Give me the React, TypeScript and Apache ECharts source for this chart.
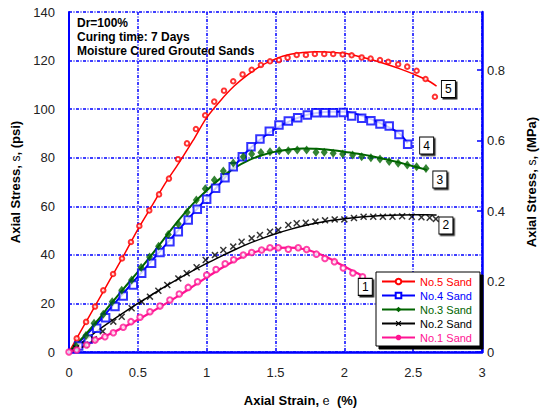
import React, { useEffect, useRef } from 'react';
import * as echarts from 'echarts';

const FONT = '"Liberation Sans", Arial, sans-serif';

// ---- data ----
const sandNames = ['No.5 Sand', 'No.4 Sand', 'No.3 Sand', 'No.2 Sand', 'No.1 Sand'];
const sandColors = ['#ff0000', '#0000ff', '#006400', '#000000', '#ff1493'];
const boxLabels = ['5', '4', '3', '2', '1'];
const boxAnchors = [[2.756, 108.3], [2.598, 85], [2.694, 71], [2.738, 52.1], [2.152, 26.8]];

const xTicks = [0, 0.5, 1, 1.5, 2, 2.5, 3];
const psiTicks = [0, 20, 40, 60, 80, 100, 120, 140];
const mpaTicks = [0, 0.2, 0.4, 0.6, 0.8];
const PSI_PER_MPA = 145.0377;

// measured points (strain %, stress psi)
const sand5Points = [[0.056,5.6],[0.124,12.4],[0.189,18.7],[0.249,25.4],[0.32,32.1],[0.385,38.5],[0.45,45.3],[0.511,51.9],[0.583,58.3],[0.654,64.9],[0.726,71.4],[0.792,79.4],[0.857,85.9],[0.922,91.8],[0.989,97.5],[1.055,103.1],[1.126,107.6],[1.193,111.5],[1.261,114.3],[1.327,116.2],[1.394,118.2],[1.46,119.7],[1.525,120.2],[1.588,121.2],[1.654,122.3],[1.721,122.3],[1.786,122.7],[1.854,122.7],[1.919,122.7],[1.988,122.5],[2.053,122.2],[2.126,121.3],[2.191,120.8],[2.259,120.2],[2.319,119.5],[2.391,118.5],[2.457,117.5],[2.525,115.8],[2.59,112.4],[2.658,105.1]];
const sand4Points = [[0.07,2.5],[0.14,5.4],[0.201,9.8],[0.266,14.1],[0.334,18.7],[0.394,23.1],[0.467,27.6],[0.528,32.4],[0.6,36.5],[0.661,41],[0.733,45.4],[0.794,49.5],[0.866,54.4],[0.932,58.8],[1.0,62.9],[1.065,67.4],[1.133,71.8],[1.193,76.3],[1.259,80.4],[1.322,84.5],[1.387,87.7],[1.455,90.9],[1.525,93.5],[1.593,95.1],[1.661,96.5],[1.731,97.6],[1.794,98.5],[1.859,98.5],[1.919,98.5],[1.992,98.6],[2.053,97.2],[2.126,96.2],[2.193,95.2],[2.259,93.9],[2.326,93.1],[2.397,89.6],[2.46,85.5]];
const sand3Points = [[0.05,2.5],[0.123,6.8],[0.182,11.8],[0.249,15.5],[0.314,20.7],[0.383,25.4],[0.455,29.6],[0.524,34.8],[0.585,39.1],[0.651,43.5],[0.721,48.4],[0.794,52.7],[0.858,57.5],[0.925,62.6],[0.99,67.2],[1.056,70.8],[1.121,74.5],[1.193,77.8],[1.266,80.4],[1.327,81.5],[1.394,82.1],[1.46,82.5],[1.527,82.9],[1.593,82.9],[1.658,83.2],[1.726,83.2],[1.794,82.2],[1.854,82.2],[1.919,81.8],[1.988,81.5],[2.06,81.1],[2.126,80.4],[2.193,80],[2.259,79.5],[2.326,78.4],[2.391,77.7],[2.457,77],[2.525,76.3],[2.593,75.6]];
const sand2Points = [[0.051,1.5],[0.116,3],[0.18,5.3],[0.245,8.5],[0.322,12.5],[0.383,14.5],[0.455,18],[0.528,20.7],[0.588,22.8],[0.649,25.2],[0.714,27.6],[0.794,30.3],[0.855,32.4],[0.927,34.9],[0.993,37.9],[1.06,39.9],[1.121,42],[1.193,43.4],[1.254,45.4],[1.327,46.8],[1.387,48.2],[1.46,49.5],[1.52,50.2],[1.593,52.3],[1.654,53],[1.72,53.2],[1.79,53.7],[1.86,54.2],[1.93,54.6],[2.0,54.6],[2.07,55.2],[2.14,55.7],[2.21,55.7],[2.28,55.7],[2.35,55.7],[2.42,55.9],[2.49,55.7],[2.56,55.5],[2.62,55.3],[2.665,54.8]];
const sand1Points = [[0,0],[0.056,0.8],[0.128,2.9],[0.189,4.9],[0.261,6.3],[0.322,7.9],[0.394,10.2],[0.45,12.5],[0.516,14.3],[0.588,16.6],[0.661,18.9],[0.733,21.4],[0.801,23.9],[0.866,26.6],[0.934,28.9],[1.0,31.7],[1.068,34],[1.134,36.3],[1.196,38],[1.266,39.9],[1.327,41],[1.399,42],[1.46,42.9],[1.52,42.9],[1.593,42.3],[1.665,42.9],[1.726,42.2],[1.797,40.3],[1.859,38.5],[1.928,37.2],[1.992,34.6],[2.062,32.5],[2.132,31]];

// fitted curves (strain %, stress psi)
const sand5Fit = [[0,0],[0.1,10],[0.2,20],[0.3,30],[0.4,40],[0.5,50.5],[0.6,60],[0.7,69.5],[0.8,78],[0.9,87],[1.0,96.5],[1.1,103.5],[1.2,109.5],[1.3,114.2],[1.4,118],[1.5,120.7],[1.6,122.5],[1.7,123.3],[1.8,123.6],[1.9,123.4],[2.0,123],[2.1,121.8],[2.2,120.3],[2.3,118.6],[2.4,116.7],[2.5,114.5],[2.6,112],[2.67,109.5]];
const sand4Fit = [[0,0],[0.1,5.5],[0.2,11.5],[0.3,18],[0.4,24.5],[0.5,31],[0.6,37.5],[0.7,44],[0.8,50.5],[0.9,57],[1.0,63.3],[1.1,69.5],[1.2,76.5],[1.3,83],[1.4,88],[1.5,92],[1.6,95],[1.7,97.2],[1.8,98.4],[1.9,98.9],[2.0,98.9],[2.1,97.8],[2.2,95.8],[2.3,93.2],[2.4,90],[2.46,86]];
const sand3Fit = [[0,0],[0.1,6],[0.2,12.5],[0.3,19.5],[0.4,26.3],[0.5,33],[0.6,40],[0.7,47.3],[0.8,54.5],[0.9,61],[1.0,66.5],[1.1,71.5],[1.2,75.7],[1.3,78.8],[1.4,81],[1.5,82.5],[1.6,83.4],[1.7,83.8],[1.8,83.7],[1.9,83.2],[2.0,82.5],[2.1,81.6],[2.2,80.6],[2.3,79.4],[2.4,78],[2.5,76.5],[2.6,75]];
const sand2Fit = [[0,0],[0.1,4.2],[0.2,8.5],[0.3,12.5],[0.4,16.3],[0.5,20],[0.6,23.5],[0.7,27],[0.8,30.3],[0.9,33.5],[1.0,36.5],[1.1,39.3],[1.2,42],[1.3,44.5],[1.4,46.7],[1.5,48.7],[1.6,50.4],[1.7,51.9],[1.8,53.1],[1.9,54.1],[2.0,54.9],[2.1,55.5],[2.2,55.9],[2.3,56.2],[2.4,56.4],[2.5,56.5],[2.6,56.5],[2.67,56.4]];
const sand1Fit = [[0,0],[0.1,2.3],[0.2,4.8],[0.3,7.5],[0.4,10.3],[0.5,13.3],[0.6,16.5],[0.7,19.8],[0.8,23.3],[0.9,27],[1.0,30.7],[1.1,34.3],[1.2,37.5],[1.3,40.2],[1.4,41.9],[1.5,42.8],[1.6,43],[1.7,42.4],[1.8,40.8],[1.9,38.3],[2.0,35.2],[2.1,32.3],[2.13,31.2]];

const noteLines = ['Dr=100%', 'Curing time: 7 Days', 'Moisture Cured Grouted Sands'];

const pointSets = [sand5Points, sand4Points, sand3Points, sand2Points, sand1Points];
const fitSets = [sand5Fit, sand4Fit, sand3Fit, sand2Fit, sand1Fit];

const CROSS = 'path://M0,1.5L1.5,0L5,3.5L8.5,0L10,1.5L6.5,5L10,8.5L8.5,10L5,6.5L1.5,10L0,8.5L3.5,5Z';
const lineSymbols = ['emptyCircle', 'emptyRect', 'diamond', CROSS, 'circle'];
const pointSymbols = ['emptyCircle', 'emptyRect', 'diamond', CROSS, 'emptyCircle'];
const pointSizes: any[] = [4.5, 7.5, [7, 9], 7, 5.5];
const pointBorders = [1.2, 1.5, 0, 0, 1.8];
const lineWidths = [1.5, 2, 2, 1.5, 2.2];

export default function App() {
  const ref = useRef<HTMLDivElement>(null);
  useEffect(() => {
    if (!ref.current) return;
    const chart = echarts.init(ref.current, undefined, { renderer: 'svg' });
    const series: any[] = [];
    sandNames.forEach((name, i) => {
      series.push({
        type: 'line',
        name,
        yAxisIndex: 0,
        data: fitSets[i],
        symbol: lineSymbols[i],
        showSymbol: false,
        smooth: 0.3,
        lineStyle: { color: sandColors[i], width: lineWidths[i] },
        itemStyle: { color: sandColors[i] },
        z: 3,
        markPoint: {
          symbol: 'rect',
          symbolSize: [14, 17],
          itemStyle: {
            color: '#fff', borderColor: '#000', borderWidth: 1,
            shadowColor: '#222', shadowOffsetX: 1.5, shadowOffsetY: 1.5, shadowBlur: 0,
          },
          label: { show: true, position: 'inside', color: '#000', fontSize: 12, fontFamily: FONT, formatter: boxLabels[i] },
          data: [{ coord: boxAnchors[i], value: boxLabels[i] }],
        },
      });
    });
    sandNames.forEach((name, i) => {
      series.push({
        type: 'scatter',
        name,
        yAxisIndex: 0,
        data: pointSets[i],
        symbol: pointSymbols[i],
        symbolSize: pointSizes[i],
        itemStyle: { color: sandColors[i], borderWidth: pointBorders[i] },
        z: 4,
      });
    });

    chart.setOption({
      animation: false,
      backgroundColor: '#fff',
      grid: { left: 69, right: 63, top: 12, bottom: 58, show: false, containLabel: false, outerBoundsMode: 'none' },
      legend: {
        orient: 'vertical',
        left: 376,
        top: 272,
        itemWidth: 33,
        itemHeight: 7,
        itemGap: 3,
        padding: [4, 8, 3, 5],
        backgroundColor: '#fff',
        borderColor: '#000',
        borderWidth: 1,
        shadowColor: '#000',
        shadowOffsetX: 3,
        shadowOffsetY: 3,
        shadowBlur: 0,
        textStyle: { fontSize: 11, fontFamily: FONT },
        data: sandNames.map((n, i) => ({ name: n, textStyle: { color: sandColors[i] } })),
      },
      xAxis: {
        type: 'value',
        min: xTicks[0],
        max: xTicks[xTicks.length - 1],
        interval: 0.5,
        name: '{b|Axial Strain, }{e|e}{b|  (%)}',
        nameLocation: 'middle',
        nameGap: 42,
        nameTextStyle: {
          padding: [0, 0, 0, 50],
          rich: {
            b: { fontFamily: FONT, fontWeight: 'bold', fontSize: 13, color: '#000' },
            e: { fontFamily: 'DejaVu Serif, serif', fontSize: 12, color: '#000' },
          },
        },
        axisLine: { show: true, onZero: false, lineStyle: { color: '#0000ff', width: 2.5 } },
        axisTick: { show: false },
        axisLabel: { fontFamily: FONT, fontSize: 13, color: '#222', margin: 14 },
        splitLine: { show: true, lineStyle: { color: '#0000ff', width: 1.5, type: [3, 1.5, 1, 1.5] } },
      },
      yAxis: [
        {
          type: 'value',
          min: psiTicks[0],
          max: psiTicks[psiTicks.length - 1],
          interval: 20,
          name: '{b|Axial Stress, }{s|s}{b|, (psi)}',
          nameLocation: 'middle',
          nameGap: 33,
          nameTextStyle: {
            rich: {
              b: { fontFamily: FONT, fontWeight: 'bold', fontSize: 13, color: '#000' },
              s: { fontFamily: FONT, fontSize: 12, color: '#000' },
            },
          },
          axisLine: { show: true, onZero: false, lineStyle: { color: '#0000ff', width: 2 } },
          axisTick: { show: false },
          axisLabel: { fontFamily: FONT, fontSize: 13, color: '#222', margin: 14 },
          splitLine: { show: true, lineStyle: { color: '#0000ff', width: 1.5, type: [3, 1.5, 1, 1.5] } },
        },
        {
          type: 'value',
          position: 'right',
          min: 0,
          max: psiTicks[psiTicks.length - 1] / PSI_PER_MPA,
          name: '{b|Axial Stress, }{s|s}{b|, (MPa)}',
          nameLocation: 'middle',
          nameGap: 43,
          nameTextStyle: {
            rich: {
              b: { fontFamily: FONT, fontWeight: 'bold', fontSize: 13, color: '#000' },
              s: { fontFamily: FONT, fontSize: 12, color: '#000' },
            },
          },
          axisLine: { show: true, onZero: false, lineStyle: { color: '#0000ff', width: 2.5 } },
          axisTick: { show: true, inside: true, length: 5, customValues: mpaTicks, lineStyle: { color: '#0000ff', width: 1.5 } },
          axisLabel: { fontFamily: FONT, fontSize: 13, color: '#222', margin: 5, customValues: mpaTicks },
          splitLine: { show: false },
        },
      ],
      graphic: [
        {
          type: 'text',
          left: 77,
          top: 16,
          style: {
            text: noteLines.join('\n'),
            font: `bold 12px ${FONT}`,
            lineHeight: 14,
            fill: '#000',
          },
          z: 10,
        },
      ],
      series,
    });
    return () => chart.dispose();
  }, []);
  return <div ref={ref} style={{ position: 'fixed', left: 0, top: 0, width: 545, height: 410 }} />;
}
